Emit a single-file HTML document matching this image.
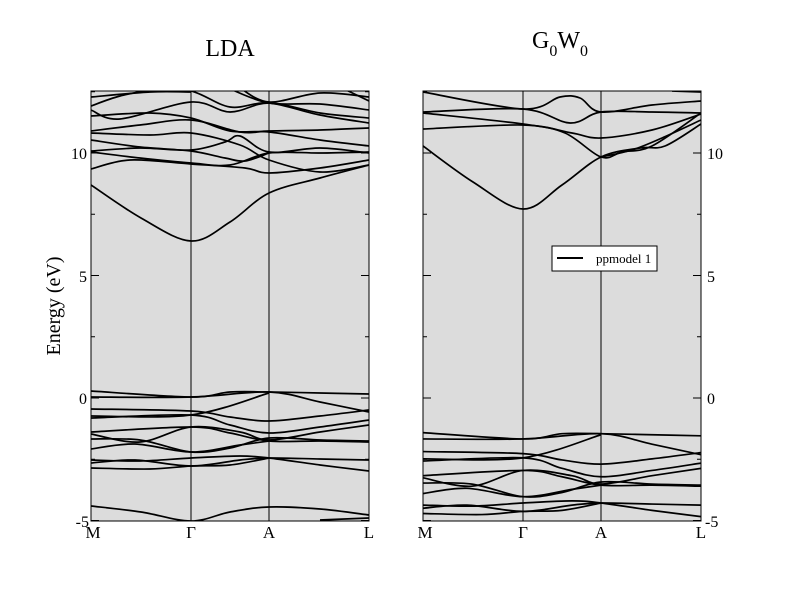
<!DOCTYPE html>
<html><head><meta charset="utf-8"><style>
body{margin:0;background:#fff}
svg{display:block}
text{font-family:"Liberation Serif",serif;fill:#000}
</style></head><body>
<svg id="s" width="792" height="612" viewBox="0 0 792 612">
<defs>
<clipPath id="cl"><rect x="91" y="91" width="278" height="430"/></clipPath>
<clipPath id="cr"><rect x="423" y="91" width="278" height="430"/></clipPath>
</defs>
<rect x="91" y="91" width="278" height="430" fill="#dcdcdc"/>
<rect x="423" y="91" width="278" height="430" fill="#dcdcdc"/>
<g id="L" clip-path="url(#cl)" fill="none" stroke="#000" stroke-width="1.7"></g>
<g id="R" clip-path="url(#cr)" fill="none" stroke="#000" stroke-width="1.7"></g>
<g stroke="#000" stroke-width="1">
<line x1="191" y1="91" x2="191" y2="521"/><line x1="269" y1="91" x2="269" y2="521"/>
<line x1="523" y1="91" x2="523" y2="521"/><line x1="601" y1="91" x2="601" y2="521"/>
</g>
<g id="T" stroke="#000" stroke-width="1"></g>
<rect x="91" y="91" width="278" height="430" fill="none" stroke="#000" stroke-width="1"/>
<rect x="423" y="91" width="278" height="430" fill="none" stroke="#000" stroke-width="1"/>
<g font-size="16" text-anchor="end">
<text x="87" y="159">10</text><text x="87" y="282">5</text><text x="87" y="404">0</text><text x="89" y="527">-5</text>
</g>
<g font-size="16" text-anchor="start">
<text x="707" y="159">10</text><text x="707" y="282">5</text><text x="707" y="404">0</text><text x="705" y="527">-5</text>
</g>
<g font-size="17" text-anchor="middle">
<text x="93" y="538">M</text><text x="191" y="538">Γ</text><text x="269" y="538">A</text><text x="369" y="538">L</text>
<text x="425" y="538">M</text><text x="523" y="538">Γ</text><text x="601" y="538">A</text><text x="701" y="538">L</text>
</g>
<text x="230" y="56" font-size="24" text-anchor="middle">LDA</text>
<text x="532" y="48" font-size="24">G<tspan font-size="16" dy="8">0</tspan><tspan dy="-8">W</tspan><tspan font-size="16" dy="8">0</tspan></text>
<text transform="translate(60,306) rotate(-90)" font-size="20" text-anchor="middle">Energy (eV)</text>
<rect x="552" y="246" width="105" height="25" fill="#fff" stroke="#000" stroke-width="1"/>
<line x1="557" y1="258" x2="583" y2="258" stroke="#000" stroke-width="2"/>
<text x="596" y="263" font-size="13">ppmodel 1</text>
</svg>
<script>
var NS="http://www.w3.org/2000/svg";
function path(pts){var d="M"+pts[0][0]+","+pts[0][1];
for(var i=0;i<pts.length-1;i++){var p0=pts[i-1]||pts[i],p1=pts[i],p2=pts[i+1],p3=pts[i+2]||p2;
d+=" C"+(p1[0]+(p2[0]-p0[0])/6)+","+(p1[1]+(p2[1]-p0[1])/6)+" "+(p2[0]-(p3[0]-p1[0])/6)+","+(p2[1]-(p3[1]-p1[1])/6)+" "+p2[0]+","+p2[1];}
return d;}
function add(g,pts,dx,dy){var e=document.createElementNS(NS,"path");
e.setAttribute("d",path(pts.map(function(p){return[p[0]+dx,p[1]+dy]})));document.getElementById(g).appendChild(e);}
var lc=[
[[91,185],[141,218],[191,241],[230,222],[269,193],[320,178],[369,165]],
[[91,169],[130,160],[191,164],[245,168],[269,173],[320,168],[369,160]],
[[91,152],[140,158],[191,163],[230,165],[269,153],[320,153],[369,152]],
[[91,151],[140,148],[191,150],[225,142],[240,136],[269,152],[320,148],[369,153]],
[[91,140],[140,147],[191,151],[225,158],[245,161],[269,153]],
[[91,131],[140,125],[191,120],[240,132],[269,131],[320,130],[369,128]],
[[91,133],[150,135],[191,133],[240,145],[269,160],[320,172],[369,165]],
[[91,110],[120,119],[191,102],[230,112],[269,103],[320,113],[369,118]],
[[91,116],[150,113],[191,118],[230,131],[269,132],[320,140],[369,146]],
[[91,97],[150,92],[191,92]],
[[91,106],[120,96],[160,88]],
[[230,89],[269,103],[320,104],[369,110]],
[[240,88],[269,102],[320,93],[369,97]],
[[340,87],[369,101]],
[[150,89],[191,91],[230,107],[269,103],[320,115],[369,123]]
];
var lv=[
[[91,391],[191,397],[230,392],[269,392],[320,393],[369,394]],
[[91,397],[191,397],[269,392],[320,402],[369,412]],
[[91,409],[191,411],[230,417],[269,421],[320,416],[369,410]],
[[91,416],[191,415],[269,393]],
[[91,418],[191,415],[230,425],[269,433],[320,427],[369,420]],
[[91,432],[191,427],[230,433],[269,441],[320,441],[369,442]],
[[91,434],[140,442],[191,427],[240,432],[269,440],[320,432],[369,425]],
[[91,439],[140,440],[191,452],[230,448],[269,438],[320,440],[369,441]],
[[91,449],[135,444],[191,452],[240,445],[269,441]],
[[91,460],[140,461],[191,458],[240,456],[269,458],[320,465],[369,471]],
[[91,463],[135,460],[191,466],[240,460],[269,458],[320,459],[369,460]],
[[91,468],[150,469],[191,466],[230,465],[269,458]],
[[91,506],[141,512],[191,521],[230,512],[269,507],[320,509],[369,515]],
[[320,520],[369,518]]
];
lc.forEach(function(p){add("L",p,0,0)});
lv.forEach(function(p){add("L",p,0,0)});
var rc=[
[[91,146],[141,182],[191,209],[230,185],[269,157],[308,148],[333,146],[369,124]],
[[91,129],[191,125],[240,133],[269,138],[320,130],[369,114]],
[[91,113],[191,124],[233,133],[269,157],[290,152],[320,146],[369,113]],
[[91,112],[191,109],[238,123],[269,112],[320,112],[369,113]],
[[91,92],[191,109],[228,97],[248,98],[269,112],[320,105],[369,101]],
[[340,91],[369,92]],
[[269,157],[300,150],[330,138],[369,120]]
];
rc.forEach(function(p){add("R",p,332,0)});
lv.forEach(function(p){add("R",p.map(function(q){return[q[0],q[1]*1.05-398*1.05+440]}),332,0)});
var T=document.getElementById("T"),s="";
[91,423].forEach(function(x0){var x1=x0+278;
for(var e=-5;e<=12.5;e+=2.5){var y=398-e*24.5,maj=(e%5===0),l=maj?8:4;
s+='<line x1="'+x0+'" y1="'+y+'" x2="'+(x0+l)+'" y2="'+y+'"/><line x1="'+x1+'" y1="'+y+'" x2="'+(x1-l)+'" y2="'+y+'"/>';}});
T.innerHTML=s;
</script>
</body></html>
